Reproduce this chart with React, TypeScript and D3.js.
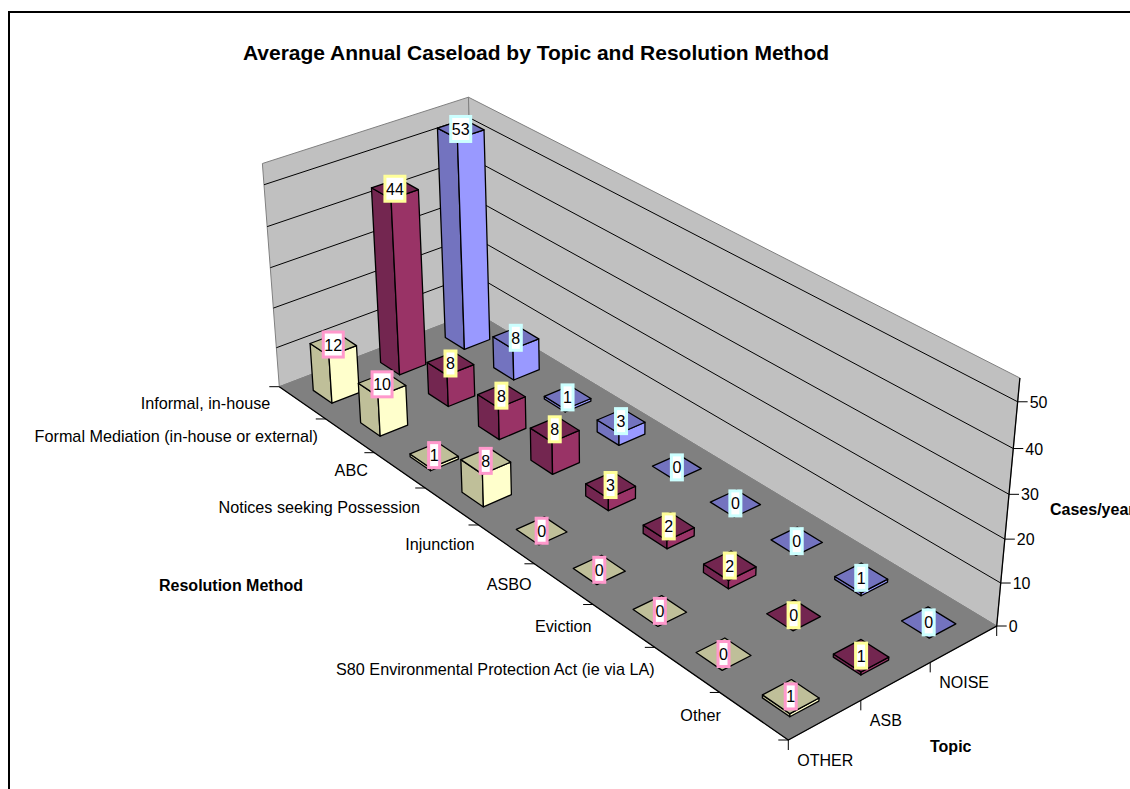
import React from "react";
import * as d3 from "d3";

const title = "Average Annual Caseload by Topic and Resolution Method";
const methods = [
  "Informal, in-house",
  "Formal Mediation (in-house or external)",
  "ABC",
  "Notices seeking Possession",
  "Injunction",
  "ASBO",
  "Eviction",
  "S80 Environmental Protection Act (ie via LA)",
  "Other",
];
const topics = ["OTHER", "ASB", "NOISE"];
const otherValues = [12, 10, 0.7, 8, 0, 0, 0, 0, 0.7];
const asbValues = [44, 8, 8, 8, 3, 2, 2, 0, 0.7];
const noiseValues = [53, 8, 0.7, 3, 0, 0, 0, 0.7, 0];
const zTicks = [0, 10, 20, 30, 40, 50];
const zMax = 55;

const seriesValues = [otherValues, asbValues, noiseValues];
const seriesColors = [
  { top: "#bfbf99", left: "#bfbf99", right: "#ffffcc", label: "#ff99cc" },
  { top: "#732650", left: "#732650", right: "#993366", label: "#ffff99" },
  { top: "#7373bf", left: "#7373bf", right: "#9999ff", label: "#ccffff" },
];
// small placement nudges of each series inside its floor cell
const seriesNudgeX = [0.04, 0, 0];
const seriesNudgeY = [-0.032, 0, 0];

type P = [number, number];

// Reference frame of the box in screen pixels
const cornerLeft: P = [279.3, 386.7];
const cornerFront: P = [788.3, 740];
const cornerRight: P = [996.7, 626];
const cornerBack: P = [475, 312];
const topLeft: P = [262, 164];
const topRight: P = [1020, 377.3];
const topBack: P = [468.7, 97.3];

function solve(A: number[][], b: number[]) {
  const n = b.length;
  const M = A.map((r, i) => [...r, b[i]]);
  for (let c = 0; c < n; c++) {
    let p = c;
    for (let r = c + 1; r < n; r++) if (Math.abs(M[r][c]) > Math.abs(M[p][c])) p = r;
    [M[c], M[p]] = [M[p], M[c]];
    for (let r = 0; r < n; r++) {
      if (r === c) continue;
      const f = M[r][c] / M[c][c];
      for (let k = c; k <= n; k++) M[r][k] -= f * M[c][k];
    }
  }
  return M.map((r, i) => r[n] / r[i]);
}

const floorPairs: [number, number, P][] = [
  [0, 0, cornerLeft],
  [1, 0, cornerFront],
  [1, 1, cornerRight],
  [0, 1, cornerBack],
];
const hA: number[][] = [];
const hB: number[] = [];
floorPairs.forEach(([u, v, [X, Y]]) => {
  hA.push([u, v, 1, 0, 0, 0, -u * X, -v * X]);
  hB.push(X);
  hA.push([0, 0, 0, u, v, 1, -u * Y, -v * Y]);
  hB.push(Y);
});
const h = solve(hA, hB);
const floorH = (u: number, v: number) => [
  h[0] * u + h[1] * v + h[2],
  h[3] * u + h[4] * v + h[5],
  h[6] * u + h[7] * v + 1,
];

const topPairs: [number, number, P][] = [
  [0, 0, topLeft],
  [1, 1, topRight],
  [0, 1, topBack],
];
const eqs: number[][] = [];
const rhs: number[] = [];
topPairs.forEach(([u, v, [X, Y]]) => {
  const [hx, hy, hw] = floorH(u, v);
  eqs.push([1, 0, -X]);
  rhs.push(X * hw - hx);
  eqs.push([0, 1, -Y]);
  rhs.push(Y * hw - hy);
});
const AtA = [0, 1, 2].map((i) => [0, 1, 2].map((j) => d3.sum(eqs, (e) => e[i] * e[j])));
const Atb = [0, 1, 2].map((i) => d3.sum(eqs, (e, k) => e[i] * rhs[k]));
const [za, zb, zc] = solve(AtA, Atb);

const zScale = d3.scaleLinear().domain([0, zMax]).range([0, 1]);
const xScale = d3.scaleLinear().domain([0, methods.length]).range([0, 1]);
const yScale = d3.scaleLinear().domain([0, topics.length]).range([0, 1]);

function proj(u: number, v: number, value: number): P {
  const [hx, hy, hw] = floorH(u, v);
  const z = zScale(value);
  const w = hw + z * zc;
  return [(hx + z * za) / w, (hy + z * zb) / w];
}

const line = d3.line<P>();
const poly = (pts: P[]) => line(pts)! + "Z";
const FONT = "'Liberation Sans', Arial, sans-serif";
const BAR = 0.4;
const fmt = d3.format(".0f");

function buildBars() {
  const bars: { i: number; j: number; v: number }[] = [];
  methods.forEach((_, i) => {
    for (let j = topics.length - 1; j >= 0; j--) bars.push({ i, j, v: seriesValues[j][i] });
  });
  return bars;
}

function Bar({ i, j, v }: { i: number; j: number; v: number }) {
  const c = seriesColors[j];
  const xc = i + 0.5 + seriesNudgeX[j];
  const yc = j + 0.5 + seriesNudgeY[j];
  const x0 = xScale(xc - BAR / 2);
  const x1 = xScale(xc + BAR / 2);
  const y0 = yScale(yc - BAR / 2);
  const y1 = yScale(yc + BAR / 2);
  const left = poly([proj(x0, y0, 0), proj(x1, y0, 0), proj(x1, y0, v), proj(x0, y0, v)]);
  const right = poly([proj(x1, y0, 0), proj(x1, y1, 0), proj(x1, y1, v), proj(x1, y0, v)]);
  const top = poly([proj(x0, y0, v), proj(x1, y0, v), proj(x1, y1, v), proj(x0, y1, v)]);
  const st = { stroke: "#000", strokeWidth: 1.3, strokeLinejoin: "round" as const };
  return (
    <g>
      {v > 0 && <path d={left} fill={c.left} {...st} />}
      {v > 0 && <path d={right} fill={c.right} {...st} />}
      <path d={top} fill={c.top} {...st} />
    </g>
  );
}

function DataLabel({ i, j, v }: { i: number; j: number; v: number }) {
  const [cx, cy] = proj(
    xScale(i + 0.5 + seriesNudgeX[j]),
    yScale(j + 0.5 + seriesNudgeY[j]),
    v
  );
  const s = fmt(v);
  const w = s.length > 1 ? 20 : 11;
  const hgt = 25;
  return (
    <g>
      <rect
        x={cx - w / 2}
        y={cy - hgt / 2}
        width={w}
        height={hgt}
        fill="#fff"
        stroke={seriesColors[j].label}
        strokeWidth={3}
      />
      <text x={cx} y={cy + 6} textAnchor="middle" fontSize={16} fontFamily={FONT} fill="#000">
        {s}
      </text>
    </g>
  );
}

export default function App() {
  const bars = buildBars();
  const leftWall = poly([proj(0, 0, 0), proj(0, 1, 0), proj(0, 1, zMax), proj(0, 0, zMax)]);
  const rightWall = poly([proj(0, 1, 0), proj(1, 1, 0), proj(1, 1, zMax), proj(0, 1, zMax)]);
  const floor = poly([proj(0, 0, 0), proj(1, 0, 0), proj(1, 1, 0), proj(0, 1, 0)]);
  const grid = zTicks.filter((t) => t > 0);
  const methodTicks = d3.range(methods.length + 1);
  const topicTicks = d3.range(topics.length + 1);
  return (
    <svg
      width={1130}
      height={789}
      style={{ position: "absolute", left: 0, top: 0, background: "#fff" }}
    >
      <rect x={9} y={12} width={1300} height={1000} fill="#fff" stroke="#000" strokeWidth={2} />
      <text x={536} y={60} textAnchor="middle" fontSize={21} fontWeight="bold" fontFamily={FONT}>
        {title}
      </text>

      <path d={leftWall} fill="#c0c0c0" stroke="#808080" strokeWidth={1} />
      <path d={rightWall} fill="#c0c0c0" stroke="#808080" strokeWidth={1} />
      <path d={floor} fill="#808080" stroke="#808080" strokeWidth={1} />
      {grid.map((t) => (
        <path
          key={t}
          d={line([proj(0, 0, t), proj(0, 1, t), proj(1, 1, t)])!}
          fill="none"
          stroke="#000"
          strokeWidth={1}
        />
      ))}
      <path
        d={line([proj(0, 0, 0), proj(1, 0, 0), proj(1, 1, 0), proj(1, 1, zMax)])!}
        fill="none"
        stroke="#000"
        strokeWidth={1.3}
      />

      {methodTicks.map((k) => {
        const [x, y] = proj(xScale(k), 0, 0);
        return <path key={k} d={line([[x - 10, y], [x, y]])!} stroke="#000" strokeWidth={1} />;
      })}
      {topicTicks.map((k) => {
        const [x, y] = proj(1, yScale(k), 0);
        return <path key={k} d={line([[x, y], [x, y + 10]])!} stroke="#000" strokeWidth={1} />;
      })}
      {zTicks.map((t) => {
        const [x, y] = proj(1, 1, t);
        return (
          <g key={t}>
            <path d={line([[x, y], [x + 10, y]])!} stroke="#000" strokeWidth={1} />
            <text x={x + 12} y={y + 6} fontSize={16} fontFamily={FONT}>
              {t}
            </text>
          </g>
        );
      })}

      {methods.map((m, k) => {
        const [x, y] = proj(xScale(k), 0, 0);
        return (
          <text
            key={m}
            x={x - 9 + k * 1.25}
            y={y + 22 + k * 0.85}
            textAnchor="end"
            fontSize={16.2}
            fontFamily={FONT}
          >
            {m}
          </text>
        );
      })}
      {topics.map((m, k) => {
        const [x, y] = proj(1, yScale(k), 0);
        return (
          <text key={m} x={x + 9} y={y + 25.5} fontSize={16} fontFamily={FONT}>
            {m}
          </text>
        );
      })}

      <text x={159} y={591} fontSize={16} fontWeight="bold" fontFamily={FONT}>
        Resolution Method
      </text>
      <text x={930} y={752} fontSize={16} fontWeight="bold" fontFamily={FONT}>
        Topic
      </text>
      <text x={1050} y={515} fontSize={16} fontWeight="bold" fontFamily={FONT}>
        Cases/year
      </text>

      {bars.map((b) => (
        <Bar key={`${b.i}-${b.j}`} {...b} />
      ))}
      {bars.map((b) => (
        <DataLabel key={`${b.i}-${b.j}`} {...b} />
      ))}
    </svg>
  );
}
